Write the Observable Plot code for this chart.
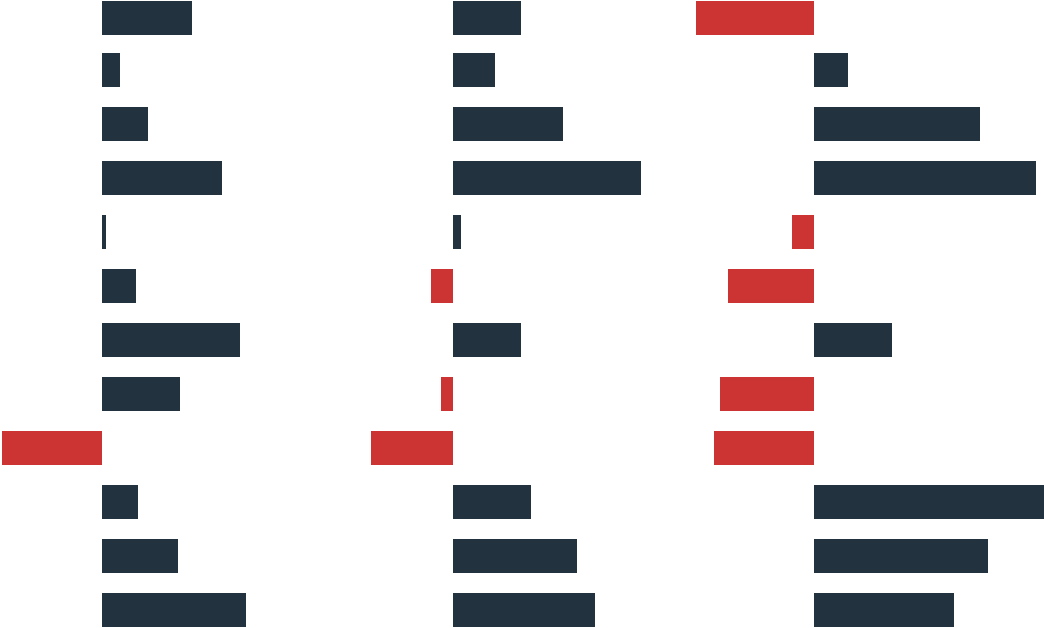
<!DOCTYPE html>
<html>
<head>
<meta charset="utf-8">
<script src="https://cdn.jsdelivr.net/npm/d3@7"></script>
<script src="https://cdn.jsdelivr.net/npm/@observablehq/plot@0.6"></script>
<style>
  html, body { margin: 0; padding: 0; background: #fff; }
  #wrap { position: relative; width: 1044px; height: 628px; display: flex; }
  #wrap > div { width: 348px; height: 628px; }
  svg { display: block; overflow: visible; }
</style>
</head>
<body>
<div id="wrap"><div id="c1"></div><div id="c2"></div><div id="c3"></div></div>
<script>
const rows = ["r1","r2","r3","r4","r5","r6","r7","r8","r9","r10","r11","r12"];
const seriesA = [90, 18, 46, 120, 4, 34, 138, 78, -100, 36, 76, 144];
const seriesB = [68, 42, 110, 188, 8, -22, 68, -12, -82, 78, 124, 142];
const seriesC = [-118, 34, 166, 222, -22, -86, 78, -94, -100, 230, 174, 140];
const domains = [[-102, 246], [-105, 243], [-118, 230]];

const POS = "#22323f", NEG = "#cc3333";

function draw(id, values, domain) {
  const data = rows.map((r, i) => ({row: r, value: values[i]}));
  const fill = d => d.value < 0 ? NEG : POS;
  const chart = Plot.plot({
    width: 348,
    height: 628,
    margin: 0,
    x: {domain, axis: null},
    y: {domain: rows, axis: null, range: [-1, 627], round: false, paddingInner: 20 / 54, paddingOuter: 0},
    marks: [
      Plot.barX(data.slice(0, 1), {x: "value", y: "row", fill, dy: 2}),
      Plot.barX(data.slice(1), {x: "value", y: "row", fill})
    ]
  });
  document.getElementById(id).appendChild(chart);
}
draw("c1", seriesA, domains[0]);
draw("c2", seriesB, domains[1]);
draw("c3", seriesC, domains[2]);
</script>
</body>
</html>
